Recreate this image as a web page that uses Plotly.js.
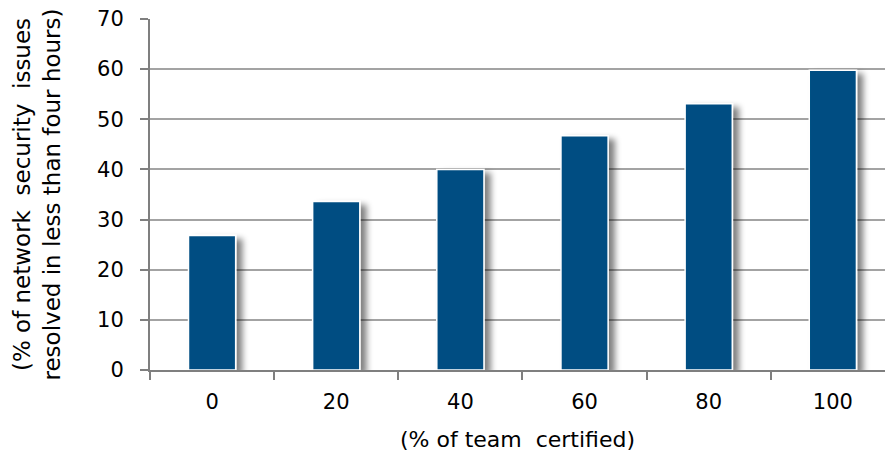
<!DOCTYPE html>
<html>
<head>
<meta charset="utf-8">
<script src="https://cdn.plot.ly/plotly-3.0.1.min.js"></script>
<style>
  html, body { margin: 0; padding: 0; background: #ffffff; }
  #chart { width: 885px; height: 462px; }
</style>
</head>
<body>
<div id="chart"></div>
<script>
// Share of a team holding the certification (x categories)
const certifiedShare = ['0', '20', '40', '60', '80', '100'];
// % of network security issues resolved in less than four hours
const resolvedFast = [26.8, 33.6, 40, 46.7, 53.1, 59.8];
const yTicks = [0, 10, 20, 30, 40, 50, 60, 70];

const FONT = '"DejaVu Sans", sans-serif';
const TEXT = '#000000';
const BAR_BLUE = '#004e82';
const AXIS_GRAY = '#7f7f7f';
const GRID_GRAY = '#a3a3a3';

const trace = {
  type: 'bar',
  x: certifiedShare,
  y: resolvedFast,
  marker: { color: BAR_BLUE, line: { color: '#ffffff', width: 1.5 } },
  hoverinfo: 'none'
};

const layout = {
  width: 885,
  height: 462,
  margin: { l: 150, r: 0, t: 19, b: 92 },
  paper_bgcolor: '#ffffff',
  plot_bgcolor: '#ffffff',
  showlegend: false,
  bargap: 0.62,
  font: { family: FONT, size: 21, color: TEXT },
  xaxis: {
    type: 'category',
    range: [-0.5, 5.42],
    showgrid: false,
    zeroline: false,
    showline: true,
    linecolor: AXIS_GRAY,
    linewidth: 2,
    ticks: 'outside',
    tickson: 'boundaries',
    ticklen: 8,
    tickwidth: 2,
    tickcolor: AXIS_GRAY,
    ticklabelstandoff: 12,
    tickfont: { family: FONT, size: 21, color: TEXT },
    title: { text: '(% of team  certified)', standoff: 18,
             font: { family: FONT, size: 22, color: TEXT } }
  },
  yaxis: {
    range: [0, 70],
    tickvals: yTicks,
    ticktext: yTicks.map(String),
    showgrid: true,
    gridcolor: GRID_GRAY,
    gridwidth: 2,
    zeroline: false,
    showline: true,
    linecolor: AXIS_GRAY,
    linewidth: 2,
    ticks: 'outside',
    ticklen: 8,
    tickwidth: 2,
    tickcolor: AXIS_GRAY,
    ticklabelstandoff: 12,
    tickfont: { family: FONT, size: 21, color: TEXT },
    title: { text: '(% of network  security  issues<br>resolved in less than four hours)', standoff: 30,
             font: { family: FONT, size: 23, color: TEXT } }
  }
};

Plotly.newPlot('chart', [trace], layout, { staticPlot: true, displayModeBar: false }).then(function (gd) {
  // soft drop shadow to the lower right of each bar
  const svg = gd.querySelector('svg.main-svg');
  const NS = 'http://www.w3.org/2000/svg';
  let defs = svg.querySelector('defs');
  if (!defs) { defs = document.createElementNS(NS, 'defs'); svg.insertBefore(defs, svg.firstChild); }
  const f = document.createElementNS(NS, 'filter');
  f.setAttribute('id', 'barShadow');
  f.setAttribute('x', '-20%'); f.setAttribute('y', '-10%');
  f.setAttribute('width', '160%'); f.setAttribute('height', '130%');
  f.innerHTML =
    '<feGaussianBlur in="SourceAlpha" stdDeviation="3" result="b"/>' +
    '<feOffset in="b" dx="6" dy="4" result="o"/>' +
    '<feComponentTransfer in="o" result="s"><feFuncA type="linear" slope="0.5"/></feComponentTransfer>' +
    '<feMerge><feMergeNode in="s"/><feMergeNode in="SourceGraphic"/></feMerge>';
  defs.appendChild(f);
  gd.querySelectorAll('.barlayer .point path').forEach(function (p) {
    p.setAttribute('filter', 'url(#barShadow)');
  });
});
</script>
</body>
</html>
